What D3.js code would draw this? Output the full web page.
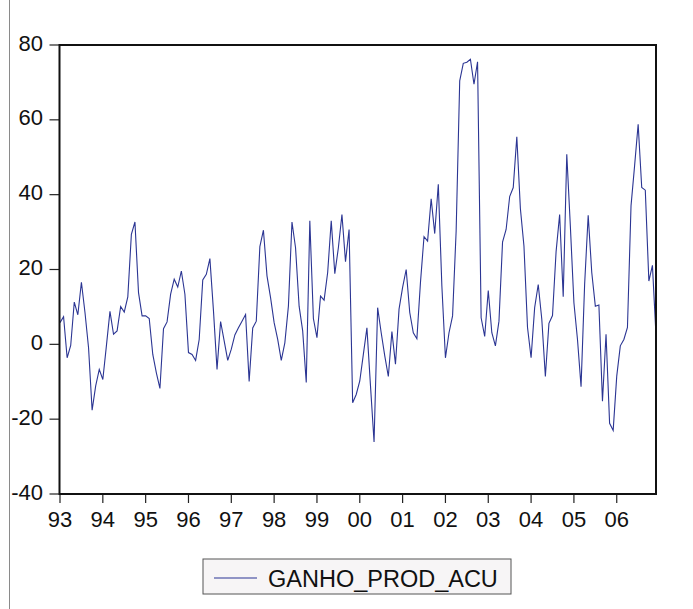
<!DOCTYPE html>
<html>
<head>
<meta charset="utf-8">
<script src="https://cdn.jsdelivr.net/npm/d3@7"></script>
<style>
  body { margin: 0; background: #fff; }
  svg { display: block; font-family: "Liberation Sans", Arial, sans-serif; }
</style>
</head>
<body>
<div id="chart"></div>
<script>
// monthly series, Jan 1993 .. Dec 2006
const seriesName = "GANHO_PROD_ACU";
const yearLabels = ["93","94","95","96","97","98","99","00","01","02","03","04","05","06"];
const yTicks = [-40, -20, 0, 20, 40, 60, 80];

const v1993 = [5.8, 7.4, -3.6, -0.3, 11.3, 7.9, 16.6, 8.5, -0.9, -17.6, -11.1, -6.7];
const v1994 = [-9.4, -0.4, 8.8, 2.7, 3.6, 10.1, 8.6, 12.7, 29.4, 32.7, 13.8, 7.6];
const v1995 = [7.6, 6.9, -2.7, -7.6, -11.8, 4.2, 6.0, 13.4, 17.4, 15.3, 19.6, 13.4];
const v1996 = [-2.2, -2.7, -4.3, 1.3, 17.2, 18.7, 22.9, 9.0, -6.7, 6.1, 0.9, -4.3];
const v1997 = [-1.3, 2.5, 4.4, 6.2, 8.0, -9.9, 4.4, 6.2, 26.1, 30.5, 18.3, 12.5];
const v1998 = [5.8, 1.3, -4.3, 0.4, 10.2, 32.7, 25.8, 10.2, 3.6, -10.2, 33.0, 6.9];
const v1999 = [1.8, 12.9, 11.8, 19.2, 33.0, 18.9, 25.8, 34.7, 22.1, 30.7, -15.6, -13.4];
const v2000 = [-9.8, -2.7, 4.4, -11.1, -26.1, 9.8, 3.1, -3.1, -8.6, 3.4, -5.3, 9.4];
const v2001 = [15.2, 20.0, 8.5, 3.1, 1.5, 16.5, 28.8, 27.6, 38.9, 29.6, 42.8, 15.6];
const v2002 = [-3.6, 3.1, 7.6, 30.3, 70.4, 75.1, 75.4, 76.2, 69.5, 75.5, 7.1, 2.1];
const v2003 = [14.4, 3.1, -0.4, 6.2, 27.3, 30.7, 39.5, 41.9, 55.5, 36.3, 26.3, 4.5];
const v2004 = [-3.6, 9.8, 16.0, 6.7, -8.6, 5.6, 7.7, 24.7, 34.7, 12.7, 50.8, 31.6];
const v2005 = [11.1, 1.3, -11.3, 16.0, 34.5, 19.2, 10.2, 10.5, -15.2, 2.7, -21.1, -23.0];
const v2006 = [-8.5, -0.4, 1.3, 4.5, 37.0, 47.7, 58.8, 41.9, 41.2, 16.9, 21.1, 2.4];

const values = [].concat(v1993, v1994, v1995, v1996, v1997, v1998, v1999,
                         v2000, v2001, v2002, v2003, v2004, v2005, v2006);

document.addEventListener('DOMContentLoaded', function() {
    drawChart(values);
});

function drawChart(data) {
    const width = 693, height = 609;
    const left = 59.5, right = 656, top = 45, bottom = 494;
    const lineColor = "#2b3593";

    const svg = d3.select("#chart").append("svg")
        .attr("width", width)
        .attr("height", height);

    // thin grey page edge on the left
    svg.append("line")
        .attr("x1", 9.5).attr("x2", 9.5)
        .attr("y1", 0).attr("y2", height)
        .attr("stroke", "#8a8a8a")
        .attr("stroke-width", 1);

    const x = d3.scaleLinear()
        .domain([0, data.length - 1])
        .range([left + 0.5, right]);

    const y = d3.scaleLinear()
        .domain([-40, 80])
        .range([bottom, top]);

    // y axis ticks + labels
    const yAxis = svg.append("g").attr("class", "y-axis");
    yAxis.selectAll("line")
        .data(yTicks)
        .enter().append("line")
        .attr("x1", left - 10).attr("x2", left)
        .attr("y1", d => y(d)).attr("y2", d => y(d))
        .attr("stroke", "#222")
        .attr("stroke-width", 1.2);
    yAxis.selectAll("text")
        .data(yTicks)
        .enter().append("text")
        .attr("x", 43)
        .attr("y", d => y(d) + 5.5)
        .attr("text-anchor", "end")
        .attr("font-size", 22)
        .attr("fill", "#111")
        .text(d => d);

    // x axis ticks at each January
    const xAxis = svg.append("g").attr("class", "x-axis");
    xAxis.selectAll("line")
        .data(yearLabels)
        .enter().append("line")
        .attr("x1", (d, i) => x(i * 12)).attr("x2", (d, i) => x(i * 12))
        .attr("y1", bottom).attr("y2", bottom + 9)
        .attr("stroke", "#222")
        .attr("stroke-width", 1.2);
    xAxis.selectAll("text")
        .data(yearLabels)
        .enter().append("text")
        .attr("x", (d, i) => x(i * 12))
        .attr("y", bottom + 33)
        .attr("text-anchor", "middle")
        .attr("font-size", 22)
        .attr("fill", "#111")
        .text(d => d);

    // the series
    const line = d3.line()
        .x((d, i) => x(i))
        .y(d => y(d));

    svg.append("path")
        .datum(data)
        .attr("fill", "none")
        .attr("stroke", lineColor)
        .attr("stroke-width", 1.1)
        .attr("stroke-linejoin", "miter")
        .attr("d", line);

    // frame
    svg.append("rect")
        .attr("x", left).attr("y", top)
        .attr("width", right - left).attr("height", bottom - top)
        .attr("fill", "none")
        .attr("stroke", "#111")
        .attr("stroke-width", 2);

    // legend
    const legend = svg.append("g").attr("class", "legend");
    legend.append("rect")
        .attr("x", 203).attr("y", 559)
        .attr("width", 308).attr("height", 35)
        .attr("fill", "#f7f5f6")
        .attr("stroke", "#555")
        .attr("stroke-width", 1);
    legend.append("line")
        .attr("x1", 214).attr("x2", 257)
        .attr("y1", 578).attr("y2", 578)
        .attr("stroke", lineColor)
        .attr("stroke-width", 1.1);
    legend.append("text")
        .attr("x", 268).attr("y", 587)
        .attr("font-size", 23.5)
        .attr("fill", "#111")
        .text(seriesName);
}
</script>
</body>
</html>
